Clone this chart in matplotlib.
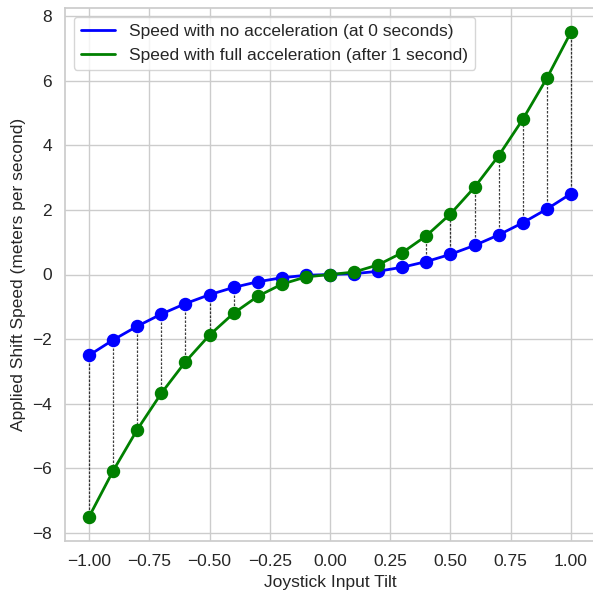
import matplotlib
matplotlib.use("Agg")
import matplotlib.pyplot as plt
import seaborn as sns

tilt = [-1.0, -0.9, -0.8, -0.7, -0.6, -0.5, -0.4, -0.3, -0.2, -0.1, 0.0,
        0.1, 0.2, 0.3, 0.4, 0.5, 0.6, 0.7, 0.8, 0.9, 1.0]
speed_no_accel = [-2.5, -2.025, -1.6, -1.225, -0.9, -0.625, -0.4, -0.225, -0.1, -0.025, 0.0,
                  0.025, 0.1, 0.225, 0.4, 0.625, 0.9, 1.225, 1.6, 2.025, 2.5]
speed_full_accel = [-7.5, -6.075, -4.8, -3.675, -2.7, -1.875, -1.2, -0.675, -0.3, -0.075, 0.0,
                    0.075, 0.3, 0.675, 1.2, 1.875, 2.7, 3.675, 4.8, 6.075, 7.5]

sns.set_theme(style="whitegrid")
plt.rcParams["font.family"] = ["Liberation Sans", "DejaVu Sans"]
plt.rcParams["xtick.labelsize"] = 12.5
plt.rcParams["ytick.labelsize"] = 12.5
plt.rcParams["axes.labelsize"] = 12.5
plt.rcParams["legend.fontsize"] = 12.5

fig = plt.figure(figsize=(5.93, 5.92), dpi=100)
ax = fig.add_axes([65 / 593, 1 - 541 / 592, 530 / 593, 533 / 592])

# connectors between the two speeds at each tilt
for x, lo, hi in zip(tilt, speed_no_accel, speed_full_accel):
    ax.plot([x, x], [lo, hi], color="black", linestyle="--", linewidth=0.9, alpha=0.75,
            dashes=(2, 1.2), zorder=1)

ax.plot(tilt, speed_no_accel, color="blue", linewidth=2,
        label="Speed with no acceleration (at 0 seconds)", zorder=2)
ax.plot(tilt, speed_full_accel, color="green", linewidth=2,
        label="Speed with full acceleration (after 1 second)", zorder=2)
ax.scatter(tilt, speed_no_accel, color="blue", s=75, zorder=3)
ax.scatter(tilt, speed_full_accel, color="green", s=75, zorder=3)

ax.set_xlabel("Joystick Input Tilt")
ax.set_ylabel("Applied Shift Speed (meters per second)")
ax.legend(loc="upper left")

fig.savefig("out.png")
